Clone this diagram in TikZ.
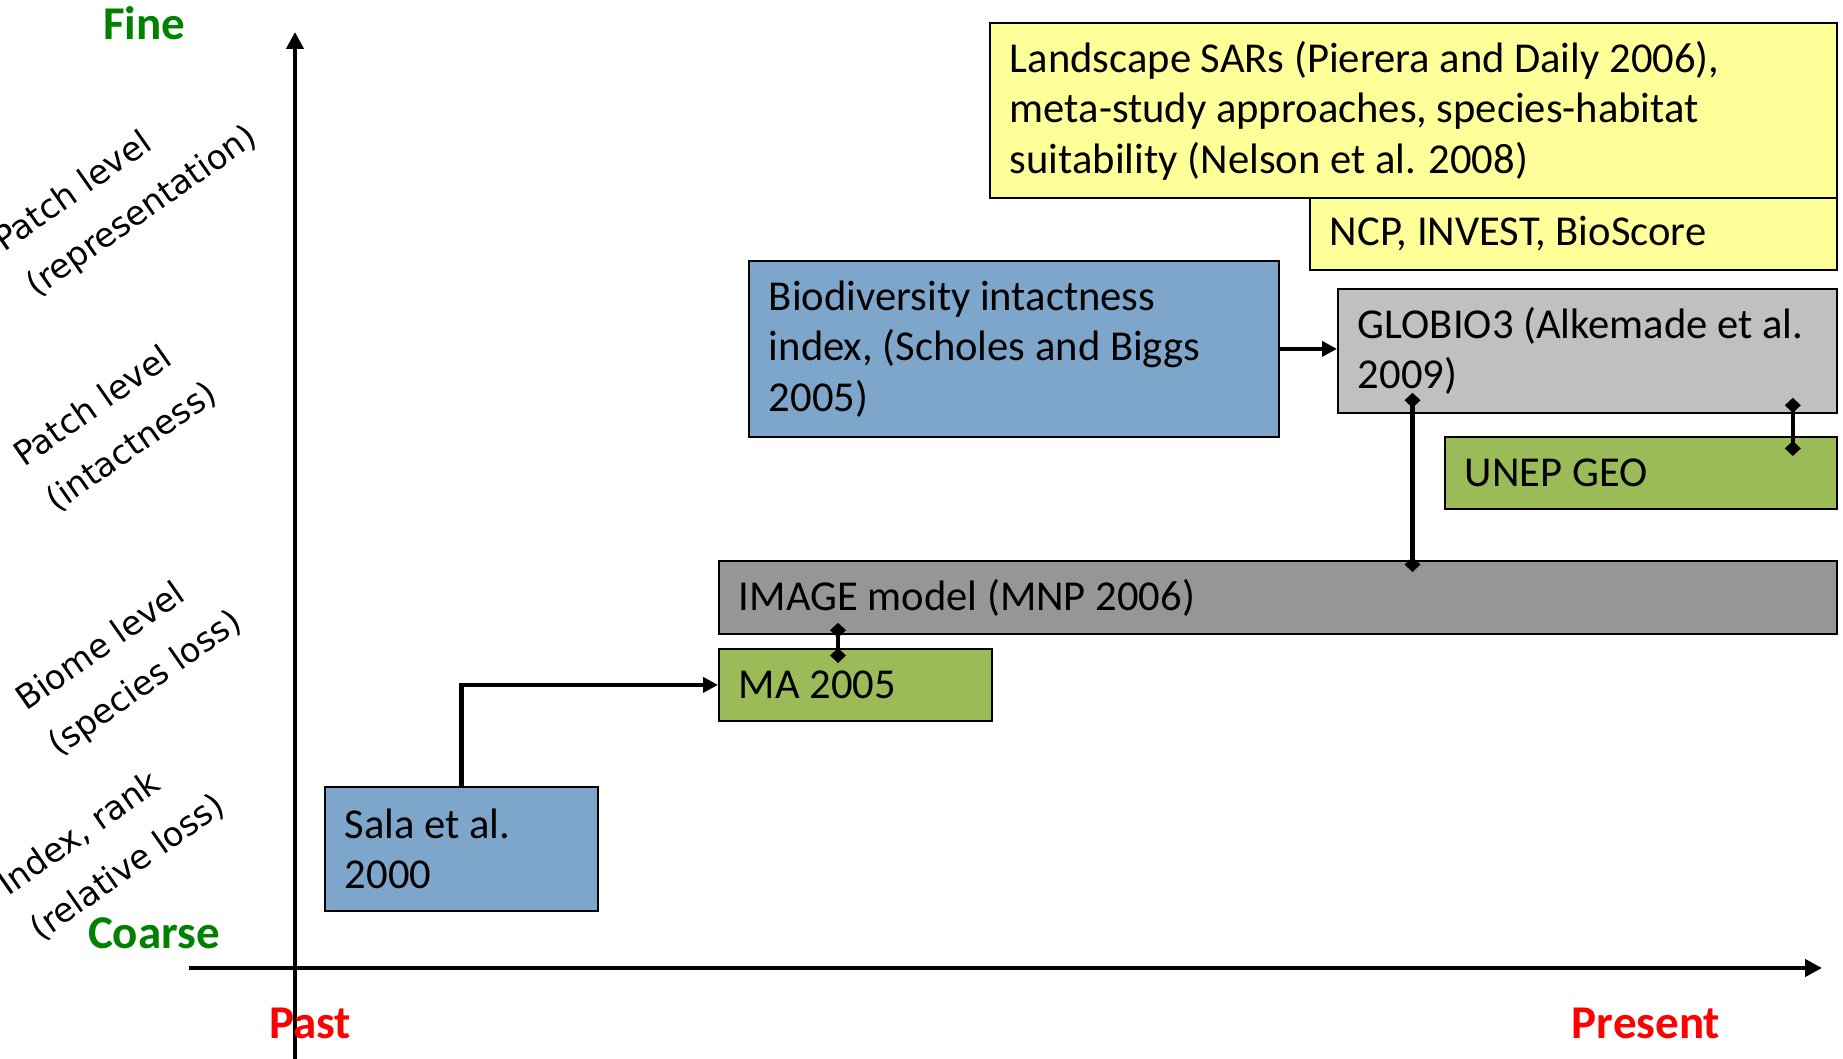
\documentclass[tikz,border=0pt]{standalone}
\usepackage{fontspec}
\setmainfont{Carlito}
\newfontfamily\dejavu{DejaVu Sans}
\usetikzlibrary{arrows.meta,calc}
\definecolor{boxblue}{RGB}{126,166,202}
\definecolor{boxgreen}{RGB}{155,187,89}
\definecolor{boxlgray}{RGB}{192,192,192}
\definecolor{boxdgray}{RGB}{150,150,150}
\definecolor{boxyellow}{RGB}{255,255,153}
\definecolor{finegreen}{RGB}{0,130,0}
\definecolor{pastred}{RGB}{255,0,0}
\tikzset{
  bx/.style={draw=black, line width=0.9pt, anchor=north west, inner xsep=10pt, inner ysep=0pt,
    align=flush left, font=\fontsize{21.3pt}{25.25pt}\selectfont},
  axis/.style={line width=2.25pt, -{Triangle[length=8.5pt,width=8.5pt]}},
  conn/.style={line width=2.25pt, -{Triangle[length=7.5pt,width=7.5pt]}},
  dconn/.style={line width=2.25pt, {Diamond[length=7.5pt,width=8pt]}-{Diamond[length=7.5pt,width=8pt]}},
  lvl/.style={font=\dejavu\fontsize{16.75pt}{20pt}\selectfont, rotate=35, anchor=base west, inner sep=0pt},
  endlbl/.style={font=\bfseries\fontsize{23.5pt}{28pt}\selectfont, anchor=base, inner sep=0pt}
}
\begin{document}
\begin{tikzpicture}[x=0.5pt,y=-0.5pt]
\useasboundingbox[fill=white] (0,0) rectangle (1843,1059);

% boxes
\node[bx, fill=boxyellow, minimum width=423.5pt, minimum height=87.5pt, text width=403.5pt] (land) at (989,22)
  {Landscape SARs (Pierera and Daily 2006),\\meta-study approaches, species-habitat\\suitability (Nelson et al. 2008)};
\node[bx, fill=boxyellow, minimum width=263.5pt, minimum height=36pt, text width=243.5pt] (ncp) at (1309,197)
  {NCP, INVEST, BioScore};
\node[bx, fill=boxblue, minimum width=265pt, minimum height=88pt, text width=245pt] (bii) at (748,260)
  {Biodiversity intactness\\index, (Scholes and Biggs\\2005)};
\node[bx, fill=boxlgray, minimum width=249.5pt, minimum height=62pt, text width=229.5pt] (globio) at (1337,288)
  {GLOBIO3 (Alkemade et al.\\2009)};
\node[bx, fill=boxgreen, minimum width=196pt, minimum height=36pt, text width=176pt] (unep) at (1444,436)
  {UNEP GEO};
\node[bx, fill=boxdgray, minimum width=559pt, minimum height=36.5pt, text width=539pt] (image) at (718,560)
  {IMAGE model (MNP 2006)};
\node[bx, fill=boxgreen, minimum width=136.5pt, minimum height=36pt, text width=116.5pt] (ma) at (718,648)
  {MA 2005};
\node[bx, fill=boxblue, minimum width=136.5pt, minimum height=62pt, text width=116.5pt] (sala) at (324,786)
  {Sala et al.\\2000};

% axes
\coordinate (yb) at (295,1059);
\coordinate (yt) at (295,32);
\coordinate (xl) at (189,968);
\coordinate (xr) at (1822,968);
\draw[axis] (yb) -- (yt);
\draw[axis] (xl) -- (xr);

% connectors
\draw[conn] (bii.east) -- (bii.east -| globio.west);
\draw[conn] (sala.north) |- (ma.west);
\draw[dconn] ($(image.south west)+(120,-12)$) -- ($(ma.north west)+(120,15)$);
\draw[dconn] ($(globio.south west)+(75.5,-21)$) -- ($(image.north west)+(694.5,12)$);
\draw[dconn] ($(globio.south east)+(-45,-16)$) -- ($(unep.north east)+(-45,20)$);

% axis end labels
\node[endlbl, text=finegreen] (fine) at (144,40) {Fine};
\node[endlbl, text=finegreen] (coarse) at (154,948) {Coarse};
\node[endlbl, text=pastred] (past) at (310,1038) {Past};
\node[endlbl, text=pastred] (present) at (1646,1038) {Present};

% level labels
\node[lvl] (l1a) at (4,253) {Patch level};
\node[lvl] (l1b) at (36,298) {(representation)};
\node[lvl] (l2a) at (24,468) {Patch level};
\node[lvl] (l2b) at (56,513) {(intactness)};
\node[lvl] (l3a) at (26,712) {Biome level};
\node[lvl] (l3b) at (58,757) {(species loss)};
\node[lvl] (l4a) at (8,897) {Index, rank};
\node[lvl] (l4b) at (40,942) {(relative loss)};
\end{tikzpicture}
\end{document}
